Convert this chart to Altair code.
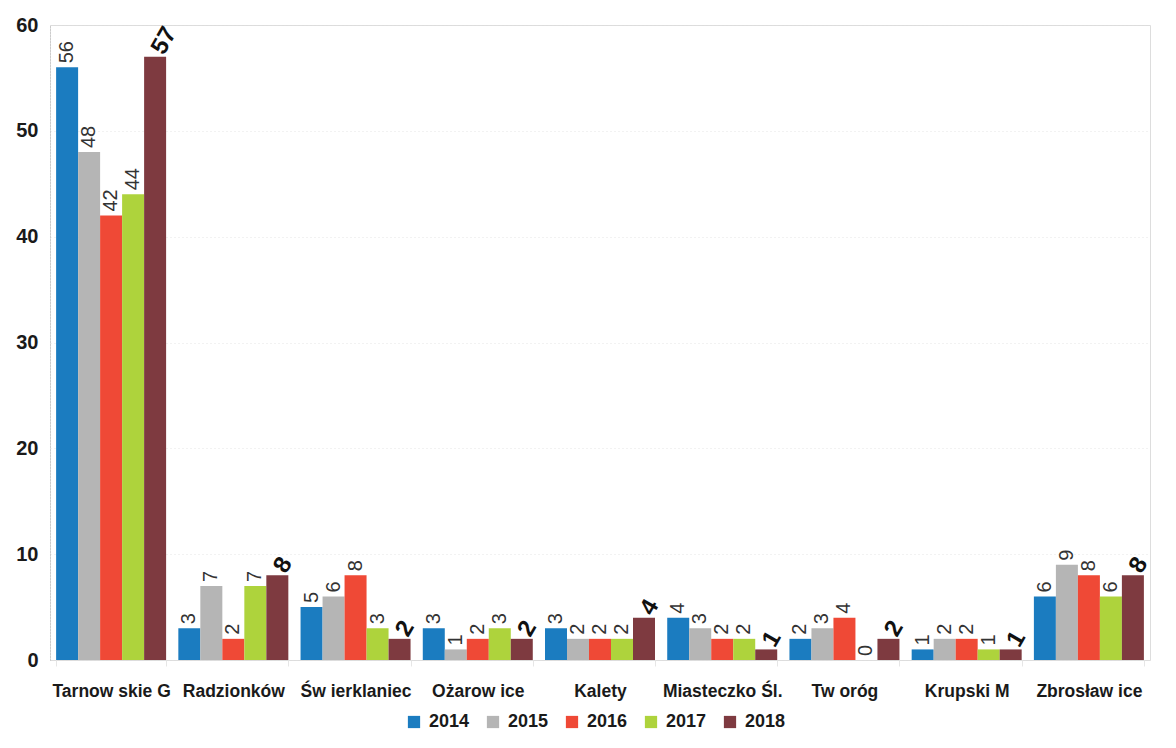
import altair as alt
import pandas as pd

categories = ["Tarnow skie G", "Radzionków", "Św ierklaniec", "Ożarow ice", "Kalety",
              "Miasteczko Śl.", "Tw oróg", "Krupski M", "Zbrosław ice"]
years = ["2014", "2015", "2016", "2017", "2018"]
v2014 = [56, 3, 5, 3, 3, 4, 2, 1, 6]
v2015 = [48, 7, 6, 1, 2, 3, 3, 2, 9]
v2016 = [42, 2, 8, 2, 2, 2, 4, 2, 8]
v2017 = [44, 7, 3, 3, 2, 2, 0, 1, 6]
v2018 = [57, 8, 2, 2, 4, 1, 2, 1, 8]
colors = ["#1b7cc0", "#b5b5b5", "#ef4936", "#aed33c", "#7e3a40"]

series = [v2014, v2015, v2016, v2017, v2018]
rows = []
for y, vals in zip(years, series):
    for c, v in zip(categories, vals):
        rows.append({"cat": c, "year": y, "value": v})
df = pd.DataFrame(rows)

FONT = "Liberation Sans"

x = alt.X("cat:N", sort=categories, title=None,
          scale=alt.Scale(paddingInner=0.1, paddingOuter=0.05),
          axis=alt.Axis(labelAngle=0, labelFontSize=17.5, labelFont=FONT, labelColor="#1a1a1a",
                        labelFontWeight="bold", labelPadding=16, labelOverlap=False, labelLimit=300,
                        ticks=True, tickSize=6, tickColor="#e6e6e6", tickBand="extent",
                        domain=False, grid=False))
xo = alt.XOffset("year:N", scale=alt.Scale(domain=years, paddingInner=0, paddingOuter=0))
yenc = alt.Y("value:Q", title=None, scale=alt.Scale(domain=[0, 60], nice=False),
             axis=alt.Axis(values=[0, 10, 20, 30, 40, 50, 60], labelFontSize=20, labelFont=FONT,
                           labelFontWeight="bold", labelColor="#1a1a1a", labelPadding=12,
                           ticks=False, domain=True, domainColor="#bbbbbb", domainDash=[1, 2],
                           grid=True, gridColor="#d8d8d8", gridDash=[1, 3], gridOpacity=0.7))

bars = alt.Chart(df).mark_bar().encode(
    x=x, xOffset=xo, y=yenc,
    color=alt.Color("year:N", scale=alt.Scale(domain=years, range=colors),
                    legend=alt.Legend(title=None, orient="none", direction="horizontal",
                                      legendX=355, legendY=688, symbolType="square",
                                      symbolSize=150, symbolStrokeWidth=0, labelFontSize=18,
                                      labelFont=FONT, labelFontWeight="bold", labelColor="#1a1a1a",
                                      columnPadding=14, labelOffset=6))
)

small = alt.Chart(df).transform_filter(alt.datum.year != "2018").mark_text(
    angle=270, align="left", baseline="middle", dx=4, fontSize=20, font=FONT, color="#333"
).encode(x=x, xOffset=xo, y=yenc, text=alt.Text("value:Q"))

big = alt.Chart(df).transform_filter(alt.datum.year == "2018").mark_text(
    angle=300, align="left", baseline="middle", dx=5, dy=0, fontSize=24, font=FONT,
    fontWeight="bold", color="#111"
).encode(x=x, xOffset=xo, y=yenc, text=alt.Text("value:Q"))

chart = alt.layer(bars, small, big).properties(
    width=1100, height=635,
    autosize=alt.AutoSizeParams(type="none"),
    padding={"left": 42, "top": 17, "right": 12, "bottom": 78},
).configure_view(stroke=None).configure(background="white")

chart.save("out.html", embed_options={"renderer": "svg", "actions": False})
